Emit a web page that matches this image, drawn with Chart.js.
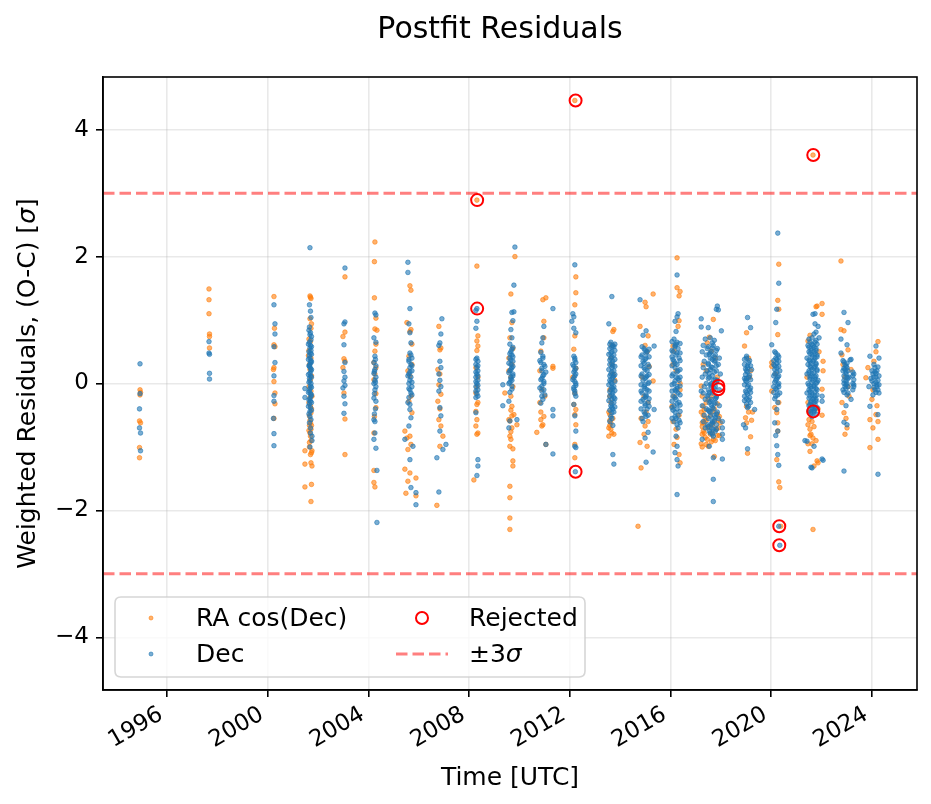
<!DOCTYPE html>
<html><head><meta charset="utf-8">
<script src="https://cdn.jsdelivr.net/npm/chart.js@4.4.1/dist/chart.umd.min.js"></script>
<style>html,body{margin:0;padding:0;background:#fff;}#wrap{width:931px;height:804px;position:relative;}canvas{display:block;}</style>
</head><body><div id="wrap"><canvas id="c" width="931" height="804"></canvas></div>
<script>
// ---------- data ----------
const xTickYears = [1996, 2000, 2004, 2008, 2012, 2016, 2020, 2024];
const yTickValues = [-4, -2, 0, 2, 4];
const xLimits = [1993.46, 2025.79];
const yLimits = [-4.83, 4.83];
const sigmaLevels = [3, -3];

// RA cos(Dec) weighted residuals: [epoch (yr), residual (sigma)]
const raCosDec = [
[1994.93,-0.10],[1994.95,-0.14],[1994.93,-0.18],[1994.91,-0.59],[1994.95,-0.62],[1994.91,-1.01],[1994.91,-1.17],
[1997.67,1.49],[1997.67,1.32],[1997.67,1.10],[1997.69,0.78],[1997.69,0.74],[1997.69,0.56],
[2000.25,1.37],[2000.27,0.87],[2000.25,0.61],[2000.29,0.58],[2000.25,0.25],[2000.23,0.22],[2000.25,0.03],[2000.29,-0.15],[2000.29,-0.32],[2000.25,-0.55],
[2001.68,1.38],[2001.70,1.36],[2001.72,1.34],[2001.68,1.02],[2001.72,0.87],[2001.70,0.66],[2001.64,0.52],[2001.72,0.40],[2001.68,0.22],[2001.70,0.06],[2001.64,-0.05],[2001.72,-0.12],[2001.68,-0.22],[2001.70,-0.35],[2001.72,-0.46],[2001.66,-0.51],[2001.70,-0.62],[2001.66,-0.66],[2001.72,-0.72],[2001.68,-0.78],[2001.70,-0.83],[2001.66,-0.93],[2001.48,-1.06],[2001.76,-1.06],[2001.74,-1.09],[2001.48,-1.27],[2001.72,-1.25],[2001.76,-1.30],[2001.74,-1.59],[2001.48,-1.63],[2001.72,-1.86],
[2001.66,0.30],[2001.74,0.12],[2001.64,-0.30],[2001.74,-0.40],[2001.68,-0.58],[2001.74,-0.66],[2001.64,-0.74],[2001.72,-0.90],[2001.66,-1.00],[2001.70,-1.12],[2001.64,0.70],[2001.74,0.94],[2001.62,0.44],[2001.76,-0.20],
[2003.07,1.68],[2003.07,0.81],[2002.99,0.74],[2003.03,0.39],[2003.07,0.35],[2002.99,0.25],[2003.03,-0.15],[2003.07,-0.56],[2003.07,-1.12],
[2004.26,2.23],[2004.24,1.92],[2004.24,1.35],[2004.30,1.03],[2004.26,0.86],[2004.34,0.84],[2004.26,0.51],[2004.22,0.33],[2004.30,0.25],[2004.26,0.15],[2004.30,-0.38],[2004.22,-0.78],[2004.22,-1.37],[2004.22,-1.56],[2004.26,-1.63],
[2004.30,0.62],[2004.22,0.06],[2004.30,-0.16],[2004.24,-0.52],
[2005.65,1.54],[2005.69,1.47],[2005.53,0.96],[2005.69,0.85],[2005.65,0.82],[2005.61,0.43],[2005.73,0.30],[2005.65,0.12],[2005.69,-0.20],[2005.61,-0.28],[2005.45,-0.75],[2005.65,-0.83],[2005.53,-0.86],[2005.69,-0.96],[2005.57,-1.04],[2005.45,-1.35],[2005.65,-1.41],[2005.89,-1.49],[2005.57,-1.54],[2005.49,-1.73],[2005.89,-1.77],
[2005.73,0.62],[2005.57,0.20],[2005.73,-0.46],
[2006.80,0.90],[2006.88,0.56],[2006.84,0.53],[2006.76,0.22],[2006.84,0.15],[2006.80,-0.02],[2006.88,-0.17],[2006.76,-0.28],[2006.84,-0.40],[2006.80,-0.57],[2006.88,-0.67],[2006.96,-0.83],[2006.84,-0.99],[2006.72,-1.92],
[2008.31,2.89],[2008.31,1.85],[2008.35,0.75],[2008.31,0.67],[2008.35,0.59],[2008.31,0.52],[2008.27,0.25],[2008.35,0.10],[2008.31,-0.05],[2008.27,-0.15],[2008.35,-0.30],[2008.31,-0.33],[2008.27,-0.44],[2008.31,-0.57],[2008.27,-0.67],[2008.35,-0.78],[2008.31,-0.80],[2008.19,-1.52],
[2009.82,2.00],[2009.66,1.41],[2009.70,0.96],[2009.62,0.72],[2009.74,0.55],[2009.58,0.40],[2009.70,0.30],[2009.66,0.10],[2009.42,-0.15],[2009.66,-0.20],[2009.70,-0.36],[2009.78,-0.49],[2009.70,-0.51],[2009.58,-0.57],[2009.62,-0.59],[2009.90,-0.65],[2009.62,-0.83],[2009.66,-0.88],[2009.62,-0.99],[2009.74,-1.03],[2009.74,-1.22],[2009.74,-1.30],[2009.62,-1.62],[2009.62,-1.80],[2009.62,-2.12],[2009.62,-2.30],
[2009.58,0.20],[2009.74,-0.05],[2009.66,-0.42],[2009.70,-0.70],[2009.66,-0.76],
[2011.05,1.35],[2010.93,1.32],[2010.97,0.98],[2010.97,0.72],[2010.85,0.51],[2011.33,0.27],[2011.33,0.24],[2010.89,-0.09],[2010.81,-0.30],[2010.85,-0.57],[2010.93,-0.65],[2010.89,-0.67],[2010.69,-0.77],[2011.05,-0.96],
[2010.81,0.20],[2011.01,-0.20],[2010.85,-0.45],[2010.97,-0.52],
[2012.20,4.46],[2012.24,1.68],[2012.24,1.43],[2012.20,1.24],[2012.20,0.75],[2012.16,0.54],[2012.24,0.24],[2012.12,0.10],[2012.20,-0.15],[2012.16,-0.33],[2012.24,-0.41],[2012.20,-0.49],[2012.24,-0.65],[2012.20,-0.96],[2012.20,-1.17],
[2013.75,0.85],[2013.71,0.82],[2013.67,0.60],[2013.63,0.40],[2013.71,0.15],[2013.59,-0.10],[2013.63,-0.30],[2013.59,-0.49],[2013.71,-0.55],[2013.63,-0.62],[2013.67,-0.78],[2013.55,-0.83],[2013.75,-0.80],[2013.59,-0.66],
[2013.55,-0.45],[2013.59,-0.58],[2013.55,-0.70],[2013.63,-0.72],[2013.67,0.30],[2013.79,0.05],[2013.59,-0.20],
[2015.31,1.41],[2014.99,1.28],[2015.03,1.21],[2014.79,0.90],[2015.11,0.75],[2015.07,0.50],[2015.15,0.27],[2015.31,0.04],[2014.95,-0.20],[2015.03,-0.45],[2014.99,-0.67],[2014.79,-0.93],[2015.07,-0.99],[2014.83,-1.33],[2014.71,-2.25],
[2014.99,0.60],[2014.87,0.10],[2015.11,-0.30],[2014.83,-0.55],[2015.11,-0.60],[2014.95,-0.80],
[2016.26,1.98],[2016.26,1.51],[2016.38,1.45],[2016.34,1.38],[2016.34,0.99],[2016.30,0.90],[2016.10,0.59],[2016.14,0.51],[2016.22,0.20],[2016.38,-0.10],[2016.06,-0.36],[2016.22,-0.72],[2016.14,-0.96],[2016.34,-1.12],[2016.38,-1.25],
[2016.10,0.30],[2016.38,0.00],[2016.14,-0.20],[2016.34,-0.50],[2016.10,-0.60],[2016.26,-0.85],
[2017.70,1.01],[2017.54,0.73],[2017.46,0.64],[2017.62,0.51],[2017.30,0.30],[2017.86,0.10],[2017.22,-0.04],[2017.50,-0.25],[2017.30,-0.36],[2017.74,-0.40],[2017.22,-0.45],[2017.58,-0.50],[2017.38,-0.55],[2017.90,-0.58],[2017.26,-0.62],[2017.66,-0.65],[2017.46,-0.70],[2017.82,-0.72],[2017.30,-0.75],[2017.58,-0.80],[2017.94,-0.82],[2017.38,-0.85],[2017.70,-0.88],[2017.22,-0.95],[2017.26,-1.00],[2017.50,-0.99],[2017.74,-1.15],[2017.34,-0.62],[2017.86,-0.48],
[2017.42,-0.30],[2017.86,-0.32],[2017.34,-0.42],[2017.66,-0.44],[2017.94,-0.52],[2017.42,-0.58],[2017.74,-0.60],[2017.26,-0.68],[2017.54,-0.68],[2017.90,-0.70],[2017.34,-0.78],[2017.66,-0.78],[2017.86,-0.82],[2017.46,-0.88],[2017.78,-0.90],[2017.26,-0.80],[2017.62,-0.92],[2017.42,-0.96],[2017.98,-0.62],[2017.30,-0.50],[2017.62,-0.20],[2017.42,0.20],[2017.78,0.40],[2017.26,-0.20],
[2019.02,0.80],[2018.94,0.59],[2019.10,0.40],[2019.18,0.20],[2019.02,-0.36],[2019.26,-0.45],[2018.98,-0.54],[2019.18,-0.84],[2019.06,-1.10],
[2019.10,-0.45],[2019.22,-0.58],[2019.02,-0.62],[2019.14,0.10],
[2020.30,1.88],[2020.26,1.31],[2020.30,1.17],[2020.26,0.77],[2020.02,0.33],[2020.02,0.27],[2020.02,-0.12],[2020.22,-0.46],[2020.26,-0.62],[2020.26,-0.75],[2020.22,-1.20],[2020.30,-1.55],[2020.34,-1.64],[2020.38,-2.25],
[2020.18,0.15],[2020.30,-0.30],[2020.14,-0.38],
[2021.66,3.60],[2022.02,1.26],[2021.82,1.22],[2021.78,1.21],[2022.02,1.09],[2021.54,0.76],[2021.46,0.67],[2022.06,0.35],[2022.06,0.20],[2022.02,-0.09],[2021.46,-0.30],[2022.02,-0.50],[2021.50,-0.57],[2021.54,-0.72],[2021.58,-0.80],[2021.66,-0.86],[2021.46,-0.95],[2021.54,-1.07],[2021.82,-1.22],[2021.86,-1.25],[2021.70,-1.30],[2021.66,-2.30],
[2021.50,-0.45],[2021.62,-0.60],[2021.46,-0.65],[2021.70,-0.68],[2021.54,-0.82],[2021.78,-0.90],[2021.62,-0.95],[2021.86,-0.40],[2021.42,0.10],[2021.90,0.50],
[2022.77,1.93],[2022.77,0.85],[2022.89,0.83],[2023.05,0.53],[2022.81,0.45],[2023.17,0.22],[2022.93,0.10],[2023.05,-0.05],[2022.81,-0.30],[2022.89,-0.46],[2023.01,-0.70],[2022.93,-0.80],
[2022.85,0.30],[2023.09,-0.20],[2022.97,-0.55],
[2024.24,0.66],[2024.16,0.50],[2023.84,0.25],[2023.76,0.09],[2024.04,-0.10],[2024.00,-0.25],[2024.16,-0.49],[2023.92,-0.57],[2024.24,-0.60],[2024.24,-0.88],[2023.92,-1.01],
[2024.08,0.35],[2024.20,-0.35],[2024.04,-0.70]
];

// Dec weighted residuals: [epoch (yr), residual (sigma)]
const dec = [
[1994.93,0.31],[1994.93,-0.16],[1994.91,-0.40],[1994.91,-0.70],[1994.95,-0.78],[1994.95,-1.06],
[1997.67,0.66],[1997.67,0.48],[1997.69,0.46],[1997.69,0.16],[1997.69,0.07],
[2000.25,1.24],[2000.29,0.94],[2000.29,0.78],[2000.25,0.58],[2000.29,0.33],[2000.25,0.12],[2000.25,-0.19],[2000.25,-0.28],[2000.23,-0.55],[2000.25,-0.79],[2000.25,-0.98],
[2001.68,2.14],[2001.66,1.24],[2001.70,1.14],[2001.72,1.04],[2001.66,0.89],[2001.70,0.80],[2001.68,0.77],[2001.72,0.69],[2001.66,0.65],[2001.70,0.60],[2001.68,0.56],[2001.72,0.52],[2001.70,0.48],[2001.66,0.44],[2001.68,0.40],[2001.72,0.36],[2001.70,0.33],[2001.68,0.30],[2001.66,0.27],[2001.70,0.24],[2001.72,0.20],[2001.68,0.16],[2001.70,0.12],[2001.66,0.08],[2001.68,0.04],[2001.72,0.00],[2001.70,-0.04],[2001.68,-0.08],[2001.48,-0.08],[2001.66,-0.12],[2001.70,-0.16],[2001.72,-0.20],[2001.48,-0.22],[2001.68,-0.24],[2001.70,-0.28],[2001.66,-0.32],[2001.70,-0.38],[2001.68,-0.44],[2001.72,-0.57],[2001.70,-0.70],[2001.76,-0.83],[2001.76,-0.90],[2001.68,-1.00],
[2001.64,0.84],[2001.74,0.74],[2001.62,0.62],[2001.74,0.58],[2001.64,0.50],[2001.74,0.46],[2001.62,0.38],[2001.74,0.34],[2001.64,0.28],[2001.74,0.22],[2001.62,0.14],[2001.74,0.10],[2001.64,0.02],[2001.74,-0.06],[2001.62,-0.14],[2001.74,-0.18],[2001.64,-0.26],[2001.74,-0.30],[2001.62,-0.36],[2001.74,-0.42],[2001.64,-0.48],[2001.68,-0.52],[2001.66,-0.62],[2001.70,-0.78],
[2003.07,1.82],[2003.07,0.97],[2003.03,0.94],[2003.03,0.61],[2003.07,0.33],[2003.03,0.19],[2003.07,0.10],[2003.03,0.04],[2003.07,-0.03],[2002.99,-0.07],[2003.03,-0.20],[2003.07,-0.32],[2003.03,-0.47],
[2004.26,1.11],[2004.30,1.08],[2004.22,0.72],[2004.30,0.65],[2004.26,0.43],[2004.22,0.33],[2004.30,0.28],[2004.26,0.22],[2004.22,0.16],[2004.30,0.10],[2004.26,0.05],[2004.22,0.00],[2004.30,-0.05],[2004.26,-0.10],[2004.22,-0.23],[2004.30,-0.28],[2004.22,-0.57],[2004.26,-0.60],[2004.26,-0.78],[2004.22,-0.88],[2004.30,-1.02],[2004.34,-1.37],[2004.34,-2.19],
[2004.28,0.38],[2004.24,0.19],[2004.28,0.02],[2004.24,-0.16],[2004.28,-0.40],[2004.24,-0.48],
[2005.57,1.91],[2005.57,1.75],[2005.65,1.18],[2005.61,0.94],[2005.65,0.80],[2005.69,0.64],[2005.65,0.48],[2005.73,0.40],[2005.61,0.35],[2005.69,0.30],[2005.65,0.25],[2005.73,0.20],[2005.61,0.15],[2005.69,0.10],[2005.65,0.05],[2005.61,0.00],[2005.73,-0.05],[2005.65,-0.10],[2005.69,-0.15],[2005.61,-0.22],[2005.65,-0.41],[2005.69,-0.54],[2005.61,-0.67],[2005.45,-0.88],[2005.77,-0.99],[2005.65,-1.20],[2005.69,-1.64],[2005.89,-1.72],[2005.89,-1.91],
[2005.69,0.45],[2005.61,0.38],[2005.73,0.28],[2005.65,0.18],[2005.57,0.12],[2005.73,0.02],[2005.61,-0.08],[2005.73,-0.18],[2005.57,-0.30],[2005.65,-0.33],
[2006.92,1.02],[2006.88,0.78],[2006.84,0.64],[2006.80,0.60],[2006.84,0.35],[2006.88,0.25],[2006.80,0.15],[2006.84,0.05],[2006.88,-0.05],[2006.80,-0.12],[2006.84,-0.38],[2006.88,-0.51],[2006.84,-0.75],[2007.08,-0.96],[2006.96,-1.04],[2006.72,-1.17],[2006.80,-1.71],
[2008.31,1.18],[2008.27,1.15],[2008.31,0.98],[2008.27,0.87],[2008.31,0.40],[2008.35,0.35],[2008.27,0.30],[2008.31,0.25],[2008.35,0.20],[2008.31,0.15],[2008.27,0.10],[2008.35,0.05],[2008.31,0.00],[2008.27,-0.05],[2008.35,-0.10],[2008.31,-0.16],[2008.27,-0.22],[2008.27,-0.46],[2008.35,-1.20],[2008.35,-1.30],[2008.31,-1.45],
[2008.27,0.38],[2008.35,0.28],[2008.27,0.18],[2008.35,0.12],[2008.27,0.03],[2008.35,-0.03],[2008.27,-0.12],[2008.35,-0.20],
[2009.82,2.15],[2009.78,1.55],[2009.78,1.13],[2009.70,1.12],[2009.74,0.99],[2009.66,0.85],[2009.70,0.72],[2009.74,0.57],[2009.66,0.50],[2009.70,0.45],[2009.62,0.40],[2009.74,0.35],[2009.66,0.30],[2009.70,0.25],[2009.62,0.20],[2009.74,0.15],[2009.66,0.10],[2009.70,0.05],[2009.58,0.00],[2009.34,-0.02],[2009.70,-0.09],[2009.58,-0.28],[2009.34,-0.35],[2009.58,-0.70],[2009.90,-0.57],[2009.62,-0.59],
[2009.62,0.62],[2009.70,0.54],[2009.62,0.47],[2009.74,0.42],[2009.66,0.37],[2009.58,0.32],[2009.74,0.27],[2009.66,0.22],[2009.58,0.17],[2009.74,0.12],[2009.66,0.07],[2009.62,0.02],[2009.70,-0.04],[2009.62,-0.14],
[2011.33,1.18],[2010.97,0.90],[2010.93,0.72],[2010.89,0.64],[2010.85,0.49],[2010.93,0.43],[2010.81,0.36],[2010.97,0.30],[2010.89,0.24],[2011.05,0.18],[2010.93,0.12],[2010.85,0.06],[2010.97,0.00],[2010.81,-0.07],[2010.89,-0.12],[2011.01,-0.18],[2010.93,-0.25],[2010.85,-0.31],[2011.33,-0.41],[2011.33,-0.51],[2011.05,-0.96],[2011.33,-1.11],
[2010.93,0.40],[2010.85,0.33],[2011.01,0.27],[2010.89,0.20],[2010.97,0.14],[2010.89,0.08],[2010.97,0.03],[2010.89,-0.04],[2010.97,-0.10],[2010.89,-0.20],
[2012.20,1.87],[2012.12,1.10],[2012.16,1.05],[2012.08,0.98],[2012.16,0.87],[2012.24,0.80],[2012.16,0.43],[2012.20,0.37],[2012.12,0.30],[2012.24,0.24],[2012.16,0.18],[2012.20,0.12],[2012.12,0.06],[2012.24,0.00],[2012.16,-0.06],[2012.20,-0.12],[2012.24,-0.20],[2012.16,-0.33],[2012.20,-0.51],[2012.24,-0.75],[2012.20,-0.99],[2012.24,-1.01],[2012.22,-1.39],
[2012.20,0.40],[2012.24,0.33],[2012.16,0.27],[2012.20,0.21],[2012.24,0.15],[2012.16,0.09],[2012.20,0.03],[2012.24,-0.03],[2012.16,-0.09],[2012.20,-0.16],
[2013.67,1.37],[2013.55,0.94],[2013.63,0.65],[2013.71,0.60],[2013.59,0.55],[2013.67,0.50],[2013.75,0.45],[2013.63,0.40],[2013.71,0.35],[2013.59,0.30],[2013.67,0.25],[2013.75,0.20],[2013.63,0.15],[2013.71,0.10],[2013.59,0.05],[2013.67,0.00],[2013.75,-0.05],[2013.63,-0.10],[2013.71,-0.15],[2013.59,-0.20],[2013.67,-0.25],[2013.75,-0.30],[2013.63,-0.35],[2013.71,-0.40],[2013.67,-0.46],[2013.63,-0.52],[2013.75,0.58],[2013.63,0.48],[2013.71,0.28],[2013.75,0.12],[2013.63,0.02],[2013.71,-0.08],[2013.75,-0.22],[2013.67,-0.38],[2013.71,-1.12],[2013.75,-1.27],
[2013.79,0.62],[2013.59,0.62],[2013.67,0.57],[2013.79,0.52],[2013.55,0.46],[2013.67,0.42],[2013.79,0.38],[2013.59,0.37],[2013.67,0.32],[2013.79,0.27],[2013.55,0.22],[2013.67,0.18],[2013.79,0.14],[2013.59,0.12],[2013.67,0.07],[2013.79,0.03],[2013.55,-0.02],[2013.67,-0.06],[2013.79,-0.11],[2013.59,-0.13],[2013.67,-0.18],[2013.79,-0.24],[2013.55,-0.27],[2013.67,-0.32],[2013.79,-0.37],[2013.59,-0.42],[2013.75,-0.45],[2013.67,-0.55],[2013.59,-0.60],[2013.71,-0.66],
[2014.79,1.32],[2015.03,0.83],[2014.91,0.76],[2015.35,0.59],[2014.95,0.55],[2015.07,0.50],[2014.87,0.45],[2015.03,0.40],[2014.91,0.35],[2015.11,0.30],[2014.95,0.25],[2015.07,0.20],[2014.87,0.15],[2015.03,0.10],[2014.91,0.05],[2015.11,0.00],[2014.95,-0.05],[2015.07,-0.10],[2014.87,-0.15],[2015.03,-0.20],[2014.91,-0.25],[2015.11,-0.30],[2014.99,-0.35],[2015.07,-0.40],[2015.35,-0.41],[2014.95,-0.45],[2015.03,-0.52],[2014.91,-0.60],[2015.03,0.48],[2014.95,0.32],[2015.07,0.12],[2014.99,-0.02],[2015.03,-0.18],[2015.11,-0.77],[2014.99,-0.86],[2015.31,-1.08],[2015.03,-1.24],
[2014.87,0.58],[2015.15,0.54],[2014.99,0.52],[2014.83,0.42],[2015.15,0.42],[2014.99,0.38],[2014.83,0.28],[2015.15,0.26],[2014.99,0.22],[2014.83,0.12],[2015.15,0.14],[2014.99,0.08],[2014.83,-0.02],[2015.15,0.02],[2014.99,-0.08],[2014.83,-0.12],[2015.15,-0.12],[2014.99,-0.22],[2014.83,-0.28],[2015.15,-0.24],[2014.99,-0.32],[2014.83,-0.40],[2015.15,-0.36],[2014.99,-0.48],[2015.11,-0.50],[2014.87,-0.55],
[2016.26,1.71],[2016.30,1.10],[2016.26,1.05],[2016.18,0.98],[2016.22,0.82],[2016.14,0.70],[2016.26,0.65],[2016.18,0.60],[2016.30,0.55],[2016.10,0.50],[2016.22,0.45],[2016.34,0.40],[2016.14,0.35],[2016.26,0.30],[2016.18,0.25],[2016.30,0.20],[2016.10,0.15],[2016.22,0.10],[2016.34,0.05],[2016.14,0.00],[2016.26,-0.05],[2016.18,-0.10],[2016.30,-0.15],[2016.10,-0.20],[2016.22,-0.25],[2016.34,-0.30],[2016.14,-0.35],[2016.26,-0.40],[2016.18,-0.45],[2016.30,-0.50],[2016.22,-0.55],[2016.14,-0.60],[2016.22,0.62],[2016.10,0.38],[2016.30,0.08],[2016.22,-0.12],[2016.10,-0.42],[2016.34,-0.58],[2016.30,-0.70],[2016.22,-0.83],[2016.26,-0.99],[2016.18,-1.09],[2016.26,-1.20],[2016.30,-1.30],[2016.26,-1.75],
[2016.06,0.66],[2016.38,0.63],[2016.18,0.58],[2016.06,0.52],[2016.38,0.48],[2016.26,0.48],[2016.06,0.42],[2016.38,0.36],[2016.18,0.32],[2016.06,0.28],[2016.38,0.22],[2016.26,0.18],[2016.06,0.12],[2016.38,0.10],[2016.18,0.04],[2016.06,-0.02],[2016.38,-0.04],[2016.26,-0.08],[2016.06,-0.12],[2016.38,-0.18],[2016.18,-0.22],[2016.06,-0.28],[2016.38,-0.34],[2016.26,-0.32],[2016.06,-0.38],[2016.38,-0.44],[2016.18,-0.52],[2016.06,-0.55],[2016.38,-0.62],[2016.26,-0.65],
[2017.86,1.22],[2017.82,1.17],[2017.90,1.16],[2017.22,1.02],[2017.22,0.89],[2017.50,0.88],[2018.02,0.83],[2017.38,0.70],
[2017.30,0.60],[2017.70,0.60],[2017.46,0.55],[2017.86,0.55],[2017.62,0.50],[2017.26,0.50],[2017.78,0.45],[2017.42,0.45],[2017.94,0.40],[2017.58,0.40],[2017.34,0.35],[2017.74,0.35],[2017.50,0.30],[2017.90,0.30],[2017.66,0.25],[2017.30,0.25],[2017.82,0.20],[2017.46,0.20],[2017.38,0.15],[2017.98,0.15],[2017.54,0.10],[2017.26,0.10],[2017.70,0.05],[2017.86,0.05],[2017.42,0.00],[2017.62,0.00],[2017.78,-0.05],[2017.34,-0.05],[2017.94,-0.10],[2017.50,-0.10],[2017.30,-0.15],[2017.66,-0.15],[2017.46,-0.20],[2017.82,-0.20],[2017.62,-0.25],[2017.38,-0.25],[2017.78,-0.30],[2017.54,-0.30],[2017.26,-0.35],[2017.94,-0.35],[2017.42,-0.40],[2017.70,-0.40],[2017.58,-0.45],[2017.86,-0.45],[2017.74,-0.50],[2017.34,-0.50],[2017.50,-0.55],[2017.90,-0.55],[2017.66,-0.60],[2017.30,-0.60],[2017.82,-0.65],[2017.46,-0.65],[2017.62,-0.70],[2017.38,-0.70],[2017.54,-0.75],[2017.78,-0.75],[2017.70,-0.83],
[2017.58,0.72],[2017.74,0.68],[2017.66,0.64],[2017.50,0.58],[2017.82,0.52],[2017.58,0.48],[2017.74,0.42],[2017.66,0.38],[2017.50,0.32],[2017.82,0.28],[2017.58,0.22],[2017.74,0.18],[2017.66,0.12],[2017.50,0.08],[2017.82,0.02],[2017.58,-0.02],[2017.74,-0.08],[2017.66,-0.12],[2017.50,-0.18],[2017.82,-0.22],[2017.58,-0.28],[2017.74,-0.32],[2017.66,-0.38],[2017.50,-0.42],[2017.82,-0.48],[2017.58,-0.52],[2017.74,-0.58],[2017.66,-0.62],[2017.50,-0.68],[2017.82,-0.72],[2017.58,-0.78],[2017.66,-0.80],
[2017.66,0.56],[2017.54,0.46],[2017.78,0.36],[2017.62,0.26],[2017.54,0.16],[2017.78,0.06],[2017.62,-0.04],[2017.54,-0.14],[2017.78,-0.24],[2017.62,-0.34],[2017.54,-0.44],[2017.78,-0.54],[2017.62,-0.64],[2017.70,-0.72],
[2017.22,-0.12],[2018.06,-0.60],[2018.06,-0.70],[2018.06,-0.80],[2018.06,-0.88],[2017.26,-0.88],[2017.54,-0.99],[2017.70,-1.17],[2018.06,-1.19],[2017.70,-1.51],[2017.70,-1.86],
[2019.06,1.04],[2019.18,0.88],[2019.02,0.43],[2018.94,0.38],[2019.10,0.33],[2019.18,0.28],[2018.98,0.23],[2019.06,0.18],[2019.14,0.13],[2018.94,0.08],[2019.02,0.03],[2019.10,-0.02],[2019.18,-0.07],[2018.98,-0.12],[2019.06,-0.17],[2019.14,-0.22],[2018.94,-0.27],[2019.02,-0.32],[2019.10,-0.36],[2019.06,0.25],[2018.98,0.05],[2019.14,-0.10],[2019.34,-0.41],[2018.90,-0.65],[2018.98,-0.70],[2019.06,-1.03],
[2019.02,0.40],[2019.14,0.36],[2018.94,0.30],[2019.06,0.28],[2019.22,0.22],[2019.02,0.20],[2018.98,0.14],[2019.10,0.10],[2019.18,0.06],[2019.02,0.08],[2018.94,-0.02],[2019.06,-0.05],[2019.18,-0.14],[2019.02,-0.14],[2018.94,-0.20],[2019.10,-0.26],[2019.18,-0.30],[2019.02,-0.24],[2019.06,-0.38],
[2020.26,2.37],[2020.30,1.58],[2020.22,1.17],[2020.18,0.96],[2020.02,0.61],[2020.14,0.50],[2020.26,0.45],[2020.18,0.40],[2020.30,0.35],[2020.10,0.30],[2020.22,0.25],[2020.34,0.20],[2020.14,0.15],[2020.26,0.10],[2020.18,0.05],[2020.30,0.00],[2020.10,-0.05],[2020.22,-0.10],[2020.34,-0.15],[2020.18,-0.20],[2020.22,0.38],[2020.14,0.22],[2020.26,-0.02],[2020.26,-0.30],[2020.22,-0.41],[2020.14,-0.62],[2020.26,-0.75],[2020.18,-0.82],[2020.22,-0.98],[2020.26,-1.12],[2020.30,-1.29],[2020.30,-2.25],[2020.34,-2.55],
[2020.18,0.48],[2020.30,0.42],[2020.10,0.36],[2020.22,0.32],[2020.30,0.27],[2020.14,0.28],[2020.22,0.18],[2020.30,0.12],[2020.10,0.12],[2020.22,0.07],[2020.14,0.02],[2020.30,-0.05],[2020.18,-0.08],[2020.10,-0.14],[2020.26,-0.18],[2020.14,-0.24],
[2021.74,1.10],[2021.66,1.09],[2021.74,0.94],[2021.78,0.81],[2021.90,0.72],
[2021.54,0.65],[2021.74,0.65],[2021.66,0.60],[2021.46,0.60],[2021.78,0.55],[2021.58,0.55],[2021.50,0.50],[2021.70,0.50],[2021.62,0.45],[2021.82,0.45],[2021.42,0.40],[2021.74,0.40],[2021.54,0.35],[2021.66,0.35],[2021.78,0.30],[2021.46,0.30],[2021.58,0.25],[2021.70,0.25],[2021.50,0.20],[2021.82,0.20],[2021.62,0.15],[2021.42,0.15],[2021.74,0.10],[2021.54,0.10],[2021.66,0.05],[2021.86,0.05],[2021.46,0.00],[2021.78,0.00],[2021.58,-0.05],[2021.70,-0.05],[2021.50,-0.10],[2021.82,-0.10],[2021.62,-0.15],[2021.42,-0.15],[2021.74,-0.20],[2021.54,-0.20],[2021.66,-0.25],[2021.78,-0.25],[2021.58,-0.30],[2021.70,-0.30],[2021.62,-0.35],[2021.50,-0.35],[2021.74,-0.40],[2021.66,-0.40],[2021.58,-0.45],[2021.70,-0.45],[2021.62,-0.52],
[2021.62,0.62],[2021.82,0.62],[2021.70,0.57],[2021.50,0.57],[2021.58,0.52],[2021.78,0.52],[2021.74,0.47],[2021.54,0.47],[2021.62,0.42],[2021.82,0.42],[2021.70,0.37],[2021.50,0.37],[2021.58,0.32],[2021.78,0.32],[2021.74,0.27],[2021.54,0.27],[2021.62,0.22],[2021.82,0.22],[2021.70,0.17],[2021.50,0.17],[2021.58,0.12],[2021.78,0.12],[2021.74,0.07],[2021.54,0.07],[2021.62,0.02],[2021.82,0.02],[2021.70,-0.03],[2021.50,-0.03],[2021.58,-0.08],[2021.78,-0.08],[2021.74,-0.13],[2021.54,-0.13],[2021.62,-0.18],[2021.82,-0.18],[2021.70,-0.23],[2021.50,-0.23],[2021.58,-0.28],[2021.78,-0.28],[2021.74,-0.33],[2021.54,-0.33],[2021.62,-0.38],[2021.82,-0.38],[2021.70,-0.43],[2021.50,-0.43],[2021.58,-0.48],[2021.78,-0.48],
[2021.70,0.78],[2021.62,0.72],[2021.78,0.68],[2021.50,0.70],[2021.86,0.90],
[2022.02,-0.20],[2022.02,-0.28],[2021.34,-0.90],[2021.42,-0.91],[2021.70,-0.99],[2022.02,-1.19],[2022.06,-1.21],[2021.58,-1.32],[2021.62,-1.33],
[2022.89,1.12],[2023.05,0.96],[2022.77,0.70],[2023.01,0.61],[2022.77,0.48],[2023.17,0.38],[2023.13,0.37],[2022.85,0.36],[2022.93,0.30],[2023.01,0.25],[2022.85,0.20],[2022.97,0.15],[2023.09,0.10],[2022.89,0.05],[2023.01,0.00],[2022.93,-0.05],[2022.85,-0.10],[2023.05,-0.15],[2022.93,0.22],[2023.05,0.08],[2022.97,-0.02],[2023.24,0.18],[2023.24,0.12],[2023.28,0.06],[2023.24,0.00],[2023.28,-0.05],[2023.24,-0.10],[2023.17,-0.25],[2022.97,-0.35],[2022.89,-0.61],[2023.01,-0.65],[2022.89,-1.38],
[2022.89,0.34],[2023.01,0.32],[2022.97,0.27],[2022.89,0.24],[2023.05,0.20],[2022.97,0.18],[2022.89,0.12],[2023.01,0.10],[2022.97,0.04],[2022.89,0.00],[2023.05,-0.05],[2022.97,-0.08],[2022.89,-0.14],[2023.01,-0.18],[2023.28,0.15],[2023.28,-0.02],
[2024.16,0.59],[2023.92,0.43],[2024.28,0.40],[2024.12,0.25],[2024.20,0.20],[2024.04,0.15],[2024.16,0.10],[2024.24,0.05],[2024.08,0.00],[2024.20,-0.05],[2024.12,-0.10],[2024.28,-0.15],[2024.12,0.18],[2024.20,-0.02],[2023.96,0.08],[2023.88,-0.05],[2023.92,-0.36],[2024.24,-0.49],[2024.24,-1.43],
[2024.08,0.30],[2024.24,0.26],[2024.00,0.20],[2024.16,0.16],[2024.28,0.12],[2024.08,0.10],[2024.00,0.04],[2024.16,0.02],[2024.28,-0.02],[2024.08,-0.06],[2024.24,-0.10],[2024.16,-0.14],[2024.04,-0.18]
];

// Rejected observations: [epoch (yr), residual (sigma)]
const rejected = [
[2008.32,2.89],[2008.32,1.18],[2012.23,4.46],[2012.23,-1.39],[2017.90,-0.04],[2017.90,-0.09],
[2020.32,-2.25],[2020.32,-2.55],[2021.67,3.60],[2021.67,-0.44]
];

// ---------- style ----------
const FONT = "'DejaVu Sans', 'Liberation Sans', sans-serif";
const TICK_PX = 23;
const LABEL_PX = 25;
const TITLE_PX = 30;
const ORANGE = 'rgba(255,127,14,0.6)';
const BLUE = 'rgba(31,119,180,0.6)';
const DASH_RED = 'rgba(255,0,0,0.5)';
const toXY = arr => arr.map(p => ({x: p[0], y: p[1]}));
const fmtY = v => (v < 0 ? '\u2212' + Math.abs(v) : String(v));

const overlay = {
  id: 'overlay',
  afterDraw(chart) {
    const ctx = chart.ctx, a = chart.chartArea;
    ctx.save();
    ctx.strokeStyle = '#000'; ctx.lineWidth = 1.6;
    ctx.strokeRect(a.left, a.top, a.right - a.left, a.bottom - a.top);
    ctx.fillStyle = '#000';
    ctx.font = TITLE_PX + 'px ' + FONT;
    ctx.textAlign = 'center'; ctx.textBaseline = 'alphabetic';
    ctx.fillText('Postfit Residuals', (a.left + a.right) / 2 - 10, 38);
    const xs = chart.scales.x;
    ctx.font = TICK_PX + 'px ' + FONT;
    ctx.textAlign = 'right'; ctx.textBaseline = 'top';
    const h = TICK_PX * 1.0;
    for (const t of xs.ticks) {
      const px = xs.getPixelForValue(t.value);
      ctx.save();
      ctx.translate(px - 0.5 * h, a.bottom + 13);
      ctx.rotate(-Math.PI / 6);
      ctx.fillText(String(t.value), 0, 0);
      ctx.restore();
    }
    ctx.font = LABEL_PX + 'px ' + FONT;
    ctx.textAlign = 'center'; ctx.textBaseline = 'alphabetic';
    ctx.fillText('Time [UTC]', (a.left + a.right) / 2, 785);
    const p1 = 'Weighted Residuals, (O-C) [', p2 = '\u03c3', p3 = ']';
    const fN = LABEL_PX + 'px ' + FONT, fI = 'italic ' + LABEL_PX + 'px ' + FONT;
    ctx.font = fN; const w1 = ctx.measureText(p1).width, w3 = ctx.measureText(p3).width;
    ctx.font = fI; const w2 = ctx.measureText(p2).width;
    const tot = w1 + w2 + w3;
    ctx.save();
    ctx.translate(28, (a.top + a.bottom) / 2);
    ctx.rotate(-Math.PI / 2);
    ctx.textAlign = 'left'; ctx.textBaseline = 'middle';
    let xx = -tot / 2;
    ctx.font = fN; ctx.fillText(p1, xx, 0); xx += w1;
    ctx.font = fI; ctx.fillText(p2, xx, 0); xx += w2;
    ctx.font = fN; ctx.fillText(p3, xx, 0);
    ctx.restore();
    // legend
    const bx = a.left + 12, by = a.bottom - 93, bw = 470, bh = 80, r = 6;
    ctx.beginPath();
    ctx.moveTo(bx + r, by); ctx.lineTo(bx + bw - r, by); ctx.quadraticCurveTo(bx + bw, by, bx + bw, by + r);
    ctx.lineTo(bx + bw, by + bh - r); ctx.quadraticCurveTo(bx + bw, by + bh, bx + bw - r, by + bh);
    ctx.lineTo(bx + r, by + bh); ctx.quadraticCurveTo(bx, by + bh, bx, by + bh - r);
    ctx.lineTo(bx, by + r); ctx.quadraticCurveTo(bx, by, bx + r, by); ctx.closePath();
    ctx.fillStyle = 'rgba(255,255,255,0.8)'; ctx.fill();
    ctx.strokeStyle = 'rgba(204,204,204,0.8)'; ctx.lineWidth = 1.6; ctx.stroke();
    const r1 = by + 21, r2 = by + 57;
    const dot = (x, y, c) => { ctx.beginPath(); ctx.arc(x, y, 2, 0, Math.PI * 2); ctx.fillStyle = c; ctx.fill(); ctx.strokeStyle = c; ctx.lineWidth = 1; ctx.stroke(); };
    dot(bx + 36, r1, ORANGE);
    dot(bx + 36, r2, BLUE);
    ctx.beginPath(); ctx.arc(bx + 307, r1, 6, 0, Math.PI * 2); ctx.strokeStyle = 'red'; ctx.lineWidth = 2; ctx.stroke();
    ctx.beginPath(); ctx.setLineDash([11.5, 5]); ctx.moveTo(bx + 281, r2); ctx.lineTo(bx + 333, r2);
    ctx.strokeStyle = DASH_RED; ctx.lineWidth = 3; ctx.stroke(); ctx.setLineDash([]);
    ctx.fillStyle = '#000'; ctx.textAlign = 'left'; ctx.textBaseline = 'middle';
    ctx.font = fN;
    ctx.fillText('RA cos(Dec)', bx + 81, r1 + 1);
    ctx.fillText('Dec', bx + 81, r2 + 1);
    ctx.fillText('Rejected', bx + 354, r1 + 1);
    ctx.fillText('\u00b13', bx + 354, r2 + 1);
    const wpm = ctx.measureText('\u00b13').width;
    ctx.font = fI; ctx.fillText('\u03c3', bx + 354 + wpm, r2 + 1);
    ctx.restore();
  }
};

new Chart(document.getElementById('c'), {
  type: 'scatter',
  data: {
    datasets: [
      {label: 'Rejected', data: toXY(rejected), pointRadius: 6, pointBorderWidth: 2,
       pointBackgroundColor: 'rgba(0,0,0,0)', pointBorderColor: 'red'},
      {label: 'Dec', data: toXY(dec), pointRadius: 2.3, pointBorderWidth: 1,
       pointBackgroundColor: BLUE, pointBorderColor: BLUE},
      {label: 'RA cos(Dec)', data: toXY(raCosDec), pointRadius: 2.3, pointBorderWidth: 1,
       pointBackgroundColor: ORANGE, pointBorderColor: ORANGE},
      {type: 'line', label: '+3sigma', data: [{x: xLimits[0], y: sigmaLevels[0]}, {x: xLimits[1], y: sigmaLevels[0]}],
       borderColor: DASH_RED, borderWidth: 3, borderDash: [11.5, 5], pointRadius: 0, fill: false},
      {type: 'line', label: '-3sigma', data: [{x: xLimits[0], y: sigmaLevels[1]}, {x: xLimits[1], y: sigmaLevels[1]}],
       borderColor: DASH_RED, borderWidth: 3, borderDash: [11.5, 5], pointRadius: 0, fill: false}
    ]
  },
  options: {
    responsive: false, animation: false, events: [], devicePixelRatio: 1,
    layout: {padding: {top: 77, right: 14, bottom: 0, left: 0}},
    plugins: {legend: {display: false}, title: {display: false}, tooltip: {enabled: false}},
    scales: {
      x: {
        type: 'linear', min: xLimits[0], max: xLimits[1],
        afterBuildTicks: s => { s.ticks = xTickYears.map(v => ({value: v})); },
        afterFit: s => { s.height = 114; },
        ticks: {display: false},
        grid: {color: 'rgba(176,176,176,0.28)', lineWidth: 1.6, drawTicks: true, tickLength: 7, tickColor: '#000', tickWidth: 1.6},
        border: {display: true, color: '#000', width: 1.6}
      },
      y: {
        type: 'linear', min: yLimits[0], max: yLimits[1],
        afterBuildTicks: s => { s.ticks = yTickValues.map(v => ({value: v})); },
        afterFit: s => { s.width = 103; },
        ticks: {callback: v => fmtY(v), color: '#000', padding: 7, font: {family: FONT, size: TICK_PX}},
        grid: {color: 'rgba(176,176,176,0.28)', lineWidth: 1.6, drawTicks: true, tickLength: 7, tickColor: '#000', tickWidth: 1.6},
        border: {display: true, color: '#000', width: 1.6}
      }
    }
  },
  plugins: [overlay]
});
</script>
</body></html>
